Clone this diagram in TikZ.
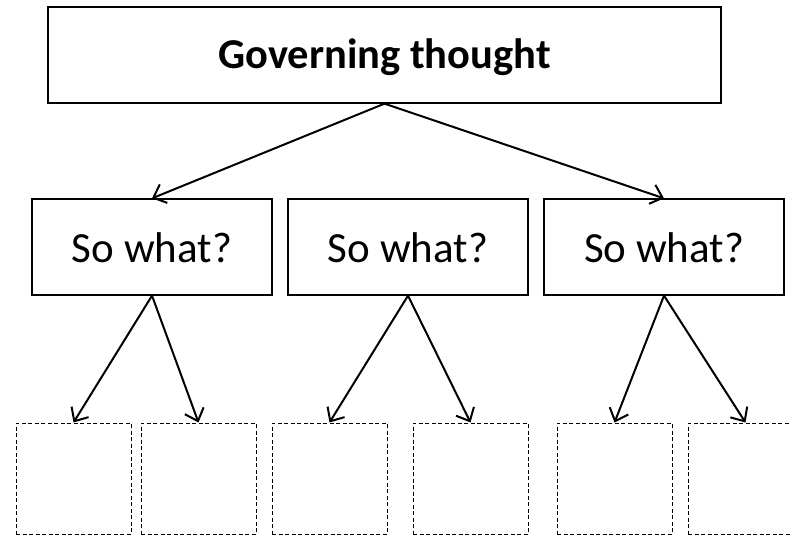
\documentclass[tikz,border=0pt]{standalone}
\usepackage{fontspec}
\setmainfont{Carlito}
\usetikzlibrary{arrows.meta}
\begin{document}
\begin{tikzpicture}[x=1pt,y=-1pt,
  solidbox/.style={draw=black,line width=1.3pt,inner sep=0pt,minimum height=96pt},
  dashbox/.style={draw=black,line width=1pt,dash pattern=on 4pt off 2.5pt,inner sep=0pt,minimum width=115pt,minimum height=111pt},
  conn/.style={line width=2pt,-{Straight Barb[length=11pt,width=20pt,line width=2pt]}}]
\useasboundingbox (0,0) rectangle (790,535);
\clip (0,0) rectangle (790,535);
\node[solidbox,minimum width=673pt,text height=28pt,text depth=0pt,font=\fontsize{42.5}{48}\selectfont\bfseries] (gov) at (384.5,55) {Governing thought};
\node[solidbox,minimum width=240pt,text height=30pt,text depth=0pt,font=\fontsize{43}{48}\selectfont] (sw1) at (152,247) {So what?};
\node[solidbox,minimum width=240pt,text height=30pt,text depth=0pt,font=\fontsize{43}{48}\selectfont] (sw2) at (408,247) {So what?};
\node[solidbox,minimum width=240pt,text height=30pt,text depth=0pt,font=\fontsize{43}{48}\selectfont] (sw3) at (664,247) {So what?};
\node[dashbox] (d1) at (73.5,478.5) {};
\node[dashbox] (d2) at (198.5,478.5) {};
\node[dashbox] (d3) at (329.5,478.5) {};
\node[dashbox] (d4) at (470.5,478.5) {};
\node[dashbox] (d5) at (614.5,478.5) {};
\node[dashbox] (d6) at (745.5,478.5) {};
\draw[conn] (gov.south) -- (sw1.north);
\draw[conn] (gov.south) -- (sw3.north);
\draw[conn] (sw1.south) -- (d1.north);
\draw[conn] (sw1.south) -- (d2.north);
\draw[conn] (sw2.south) -- (d3.north);
\draw[conn] (sw2.south) -- (d4.north);
\draw[conn] (sw3.south) -- (d5.north);
\draw[conn] (sw3.south) -- (d6.north);
\end{tikzpicture}
\end{document}
